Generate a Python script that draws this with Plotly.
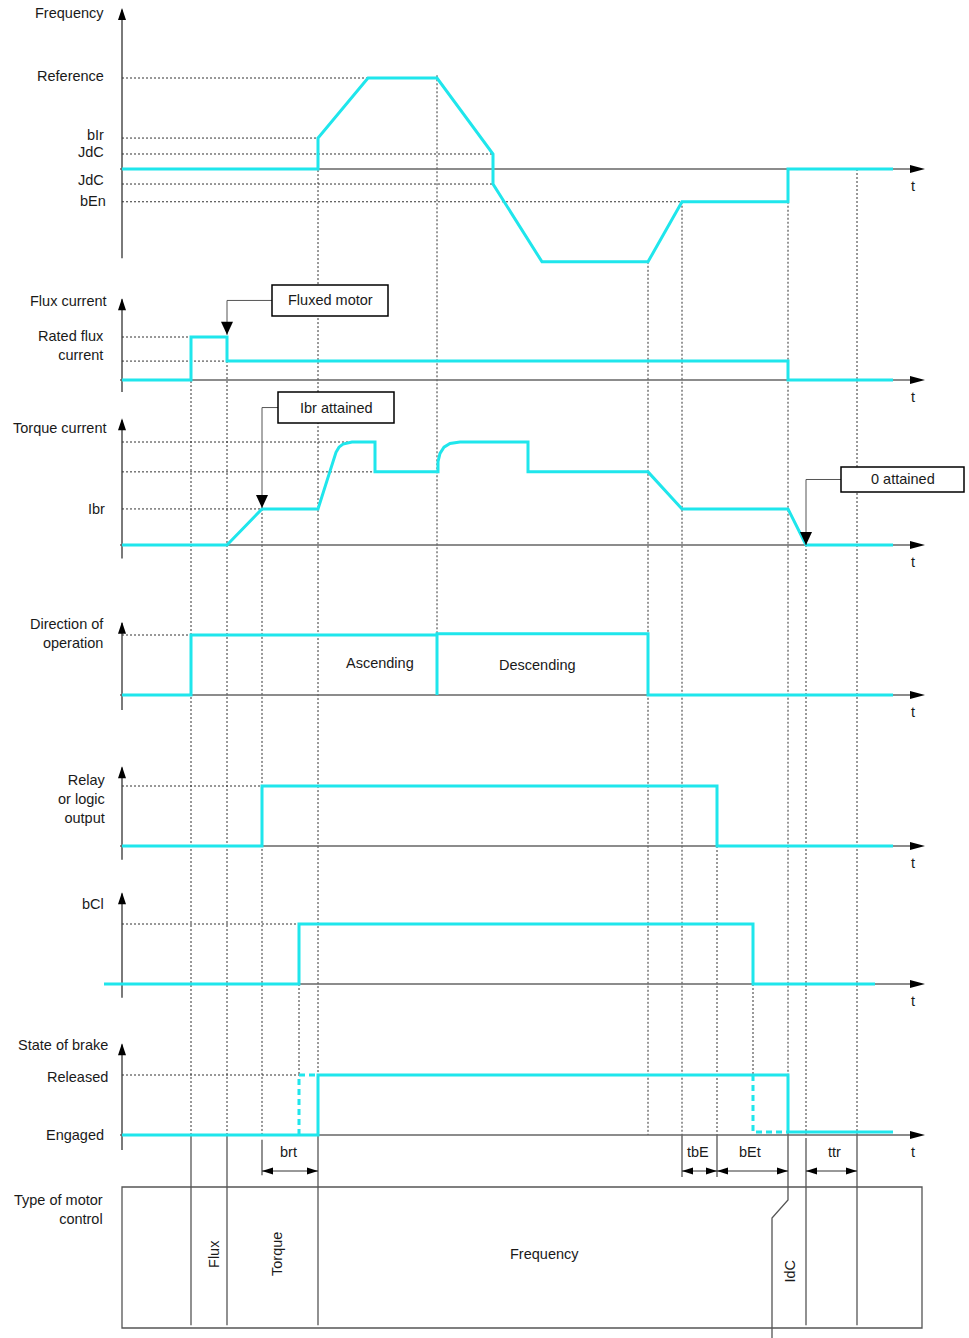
import plotly.graph_objects as go

W, H = 969, 1338
X0 = 122  # pixel column of t = 0 (the vertical axes)

CYAN = "#1fe6ec"
DOT = "#333333"
AXIS = "#7a7a7a"
FONT = "Liberation Sans, Arial, sans-serif"

# event times (t = 0 on the vertical axes)
T_FLUX = 69
T_FLUXED = 105
T_IBR = 140
T_BCL_ON = 177
T_BRAKE_OPEN = 196
T_DIR = 315
T_BOTTOM = 526
T_BEN = 560
T_RELAY_OFF = 595
T_BCL_OFF = 631
T_STOP = 666
T_ZERO = 684
T_TTR = 735
T_END = 771
T_AXIS = 803

# waveforms
freq_t = [0, 196, 196, 246, 315, 371, 371, 420, 526, 560, 666, 666, 771]
freq_v = [0, 0, 0.34, 1.0, 1.0, 0.165, -0.165, -1.02, -1.02, -0.36, -0.36, 0, 0]

flux_t = [0, 69, 69, 105, 105, 666, 666, 771]
flux_v = [0, 0, 1, 1, 0.44, 0.44, 0, 0]

torque_t = [0, 105, 140, 196, 214, 217, 221, 226, 230, 253, 253, 316, 316, 318, 322,
            328, 338, 406, 406, 526, 560, 666, 684, 771]
torque_v = [0, 0, 0.35, 0.35, 0.90, 0.95, 0.98, 0.995, 1, 1, 0.71, 0.71, 0.81, 0.89,
            0.95, 0.985, 1, 1, 0.71, 0.71, 0.35, 0.35, 0, 0]

dir_t = [0, 69, 69, 315, 315, 315, 526, 526, 771]
dir_v = [0, 0, 1, 1, 0, 1.02, 1.02, 0, 0]

relay_t = [0, 140, 140, 595, 595, 771]
relay_v = [0, 0, 1, 1, 0, 0]

bcl_t = [-18, 177, 177, 631, 631, 753]
bcl_v = [0, 0, 1, 1, 0, 0]

brake_t = [0, 196, 196, 666, 666, 771]
brake_v = [0, 0, 1, 1, 0.05, 0.05]
brake_dash1_t = [177, 177, 196]
brake_dash1_v = [0, 1, 1]
brake_dash2_t = [631, 631, 666]
brake_dash2_v = [1, 0.05, 0.05]

# level labels on the left: (panel, text, level)
left_labels = [
    ("freq", "Frequency", 1.71),
    ("freq", "Reference", 1.02),
    ("freq", "bIr", 0.37),
    ("freq", "JdC", 0.19),
    ("freq", "JdC", -0.12),
    ("freq", "bEn", -0.35),
    ("flux", "Flux current", 1.84),
    ("flux", "Rated flux<br>current", 0.81),
    ("torque", "Torque current", 1.136),
    ("torque", "Ibr", 0.35),
    ("dir", "Direction of<br>operation", 1.03),
    ("relay", "Relay<br>or logic<br>output", 0.78),
    ("bcl", "bCl", 1.33),
    ("brake", "State of brake", 1.5),
    ("brake", "Released", 0.97),
    ("brake", "Engaged", 0.0),
    ("mode", "Type of motor<br>control", 0.837),
]
label_x = [-16, -16, -16, -16, -16, -14, -13, -16, -13, -15, -16, -15, -16, -12, -12, -16, -17]

# dotted reference levels: (panel, level, end time)
ref_levels = [
    ("freq", 1.0, 315), ("freq", 0.34, 196), ("freq", 0.165, 371),
    ("freq", -0.165, 371), ("freq", -0.36, 560),
    ("flux", 1.0, 69), ("flux", 0.44, 105),
    ("torque", 1.0, 238), ("torque", 0.71, 315), ("torque", 0.35, 140),
    ("dir", 1.0, 69), ("relay", 1.0, 140), ("bcl", 1.0, 177), ("brake", 1.0, 177),
]

# vertical guides: (t, panel from, level, panel to, level)
dotted_guides = [
    (T_FLUX, "flux", 1, "brake", 0),
    (T_FLUXED, "flux", 1, "brake", 0),
    (T_IBR, "torque", 0.35, "brake", 0),
    (T_BCL_ON, "bcl", 1, "brake", 1),
    (T_BRAKE_OPEN, "freq", 0.34, "brake", 1),
    (T_DIR, "freq", 1.03, "dir", 1),
    (T_BOTTOM, "freq", -1.02, "brake", 0),
    (T_BEN, "freq", -0.36, "brake", 0),
    (T_RELAY_OFF, "relay", 1, "brake", 0),
    (T_BCL_OFF, "bcl", 1, "brake", 1),
    (T_STOP, "freq", -0.36, "brake", 1),
    (T_ZERO, "torque", 0, "brake", 0),
    (T_TTR, "freq", 0, "brake", 0),
]
solid_guides = [
    (T_FLUX, "brake", 0, "mode", 0.02),
    (T_FLUXED, "brake", 0, "mode", 0.02),
    (T_IBR, "brake", -0.08, "brake", -0.67),
    (T_BRAKE_OPEN, "brake", 0, "mode", 0.02),
    (T_BEN, "brake", 0, "brake", -0.7),
    (T_RELAY_OFF, "brake", 0, "brake", -0.7),
    (T_ZERO, "brake", -0.05, "mode", 0.02),
    (T_TTR, "brake", 0, "mode", 0.02),
]
idc_t = [666, 666, 650, 650]
idc_v = [("brake", 0.05), ("mode", 0.908), ("mode", 0.78), ("mode", -0.08)]

# time spans below the brake axis: (label, start, end)
spans = [("brt", T_IBR, T_BRAKE_OPEN), ("tbE", T_BEN, T_RELAY_OFF),
         ("bEt", T_RELAY_OFF, T_STOP), ("ttr", T_ZERO, T_TTR)]
span_label_t = [166, 576, 628, 712]

# callouts: (panel, text, x0, x1, level bottom, level top, tip t, tip level)
callouts = [
    ("flux", "Fluxed motor", 150, 266, 1.49, 2.21, T_FLUXED, 1.05),
    ("torque", "Ibr attained", 156, 272, 1.184, 1.485, T_IBR, 0.36),
    ("torque", "0 attained", 719, 842, 0.515, 0.757, T_ZERO, 0.0),
]

# motor control areas in the bottom box: (text, t, level, angle)
mode_texts = [("Flux", 92, 0.525, -90), ("Torque", 155, 0.525, -90),
              ("Frequency", 422, 0.525, 0), ("IdC", 668, 0.40, -90)]

panels = {
    "freq": dict(zero=169, unit=91, top=1.77, bottom=-0.98, start=-2),
    "flux": dict(zero=380, unit=43, top=1.90, bottom=-0.28, start=-2),
    "torque": dict(zero=545, unit=103, top=1.23, bottom=-0.13, start=-2),
    "dir": dict(zero=695, unit=60, top=1.22, bottom=-0.25, start=-2),
    "relay": dict(zero=846, unit=60, top=1.33, bottom=-0.23, start=-2),
    "bcl": dict(zero=984, unit=60, top=1.53, bottom=-0.23, start=-18),
    "brake": dict(zero=1135, unit=60, top=1.53, bottom=-0.25, start=-2),
    "mode": dict(zero=1328, unit=141),
}
names = list(panels)
yref = {n: ("y" if i == 0 else f"y{i + 1}") for i, n in enumerate(names)}


def paper_y(panel, level):
    p = panels[panel]
    return 1 - (p["zero"] - level * p["unit"]) / H


fig = go.Figure()
shapes = []
annotations = []


def line(t, v, panel, color=CYAN, width=3, dash="solid"):
    fig.add_trace(go.Scatter(x=t, y=v, yaxis=yref[panel], mode="lines", hoverinfo="skip",
                             line=dict(color=color, width=width, dash=dash)))


def tri(t, v, panel, path):
    shapes.append(dict(type="path", xref="x", yref=yref[panel], xsizemode="pixel",
                       ysizemode="pixel", xanchor=t, yanchor=v, path=path,
                       fillcolor="black", line=dict(width=0), layer="above"))


def text(t, v, panel, s, **kw):
    annotations.append(dict(x=t, y=v, xref="x", yref=yref[panel], text=s, showarrow=False,
                            font=dict(family=FONT, size=14.5, color="#1a1a1a"), **kw))


# axes of each panel
for n in names[:-1]:
    p = panels[n]
    shapes.append(dict(type="line", xref="x", yref=yref[n], x0=0, x1=0, y0=p["bottom"],
                       y1=p["top"] - 0.02, line=dict(color=AXIS, width=2), layer="below"))
    shapes.append(dict(type="line", xref="x", yref=yref[n], x0=p["start"], x1=T_AXIS - 8,
                       y0=0, y1=0, line=dict(color="#666666", width=1.5), layer="below"))
    tri(0, p["top"], n, "M -4,-12 L 4,-12 L 0,0 Z")
    tri(T_AXIS, 0, n, "M -15,4 L -15,-4 L 0,0 Z")
    text(T_AXIS - 12, 0, n, "t", yshift=-17)

# dotted reference levels
for n, lv, end in ref_levels:
    shapes.append(dict(type="line", xref="x", yref=yref[n], x0=0, x1=end, y0=lv, y1=lv,
                       line=dict(color=DOT, width=1, dash="2px,2px"), layer="below"))

for t, pa, la, pb, lb in dotted_guides:
    shapes.append(dict(type="line", xref="x", yref="paper", x0=t, x1=t, y0=paper_y(pa, la),
                       y1=paper_y(pb, lb), line=dict(color=DOT, width=1, dash="2px,2px"),
                       layer="below"))
for t, pa, la, pb, lb in solid_guides:
    shapes.append(dict(type="line", xref="x", yref="paper", x0=t, x1=t, y0=paper_y(pa, la),
                       y1=paper_y(pb, lb), line=dict(color="#555555", width=1.3), layer="below"))
idc_path = "M " + " L ".join(f"{t},{paper_y(p, v)}" for t, (p, v) in zip(idc_t, idc_v))
shapes.append(dict(type="path", xref="x", yref="paper", path=idc_path,
                   line=dict(color="#555555", width=1.3), layer="below"))

# bottom box
shapes.append(dict(type="rect", xref="x", yref=yref["mode"], x0=0, x1=800, y0=0, y1=1,
                   line=dict(color="#555555", width=1.3), layer="below"))

# waveforms
line(freq_t, freq_v, "freq")
line(flux_t, flux_v, "flux")
line(torque_t, torque_v, "torque")
line(dir_t, dir_v, "dir")
line(relay_t, relay_v, "relay")
line(bcl_t, bcl_v, "bcl")
line(brake_t, brake_v, "brake")
line(brake_dash1_t, brake_dash1_v, "brake", dash="6px,4px")
line(brake_dash2_t, brake_dash2_v, "brake", dash="6px,4px")

# callouts
for n, s, x0, x1, lb, lt, tt, tl in callouts:
    mid = (lb + lt) / 2
    line([x0, tt, tt], [mid, mid, tl], n, color="#555555", width=1)
    shapes.append(dict(type="rect", xref="x", yref=yref[n], x0=x0, x1=x1, y0=lb, y1=lt,
                       fillcolor="white", line=dict(color="black", width=1.5), layer="above"))
    text((x0 + x1) / 2, mid, n, s)
    tri(tt, tl, n, "M -6,13 L 6,13 L 0,0 Z")

# spans
for (s, a, b), lt in zip(spans, span_label_t):
    shapes.append(dict(type="line", xref="x", yref=yref["brake"], x0=a, x1=b, y0=-0.6,
                       y1=-0.6, line=dict(color="#333333", width=1)))
    tri(a, -0.6, "brake", "M 11,3.5 L 11,-3.5 L 0,0 Z")
    tri(b, -0.6, "brake", "M -11,3.5 L -11,-3.5 L 0,0 Z")
    text(lt, -0.6, "brake", s, yshift=19)

# labels
for (n, s, lv), lx in zip(left_labels, label_x):
    text(lx, lv, n, s, xanchor="right", align="right")
text(258, 0.53, "dir", "Ascending")
text(415, 0.5, "dir", "Descending")
for s, t, lv, ang in mode_texts:
    text(t, lv, "mode", s, textangle=ang)

layout_axes = {}
for i, n in enumerate(names):
    p = panels[n]
    key = "yaxis" if i == 0 else f"yaxis{i + 1}"
    ax = dict(range=[-(H - p["zero"]) / p["unit"], p["zero"] / p["unit"]], domain=[0, 1],
              visible=False, fixedrange=True, anchor="x")
    if i > 0:
        ax["overlaying"] = "y"
    layout_axes[key] = ax

fig.update_layout(
    width=W, height=H, margin=dict(l=0, r=0, t=0, b=0),
    paper_bgcolor="white", plot_bgcolor="rgba(0,0,0,0)", showlegend=False,
    xaxis=dict(range=[-X0, W - X0], domain=[0, 1], visible=False, fixedrange=True),
    shapes=shapes, annotations=annotations, **layout_axes,
)

# drop the page's default body margin so the figure fills the window
fig.write_html("out.html", config={"displayModeBar": False},
               post_script="document.body.style.margin = '0';")
